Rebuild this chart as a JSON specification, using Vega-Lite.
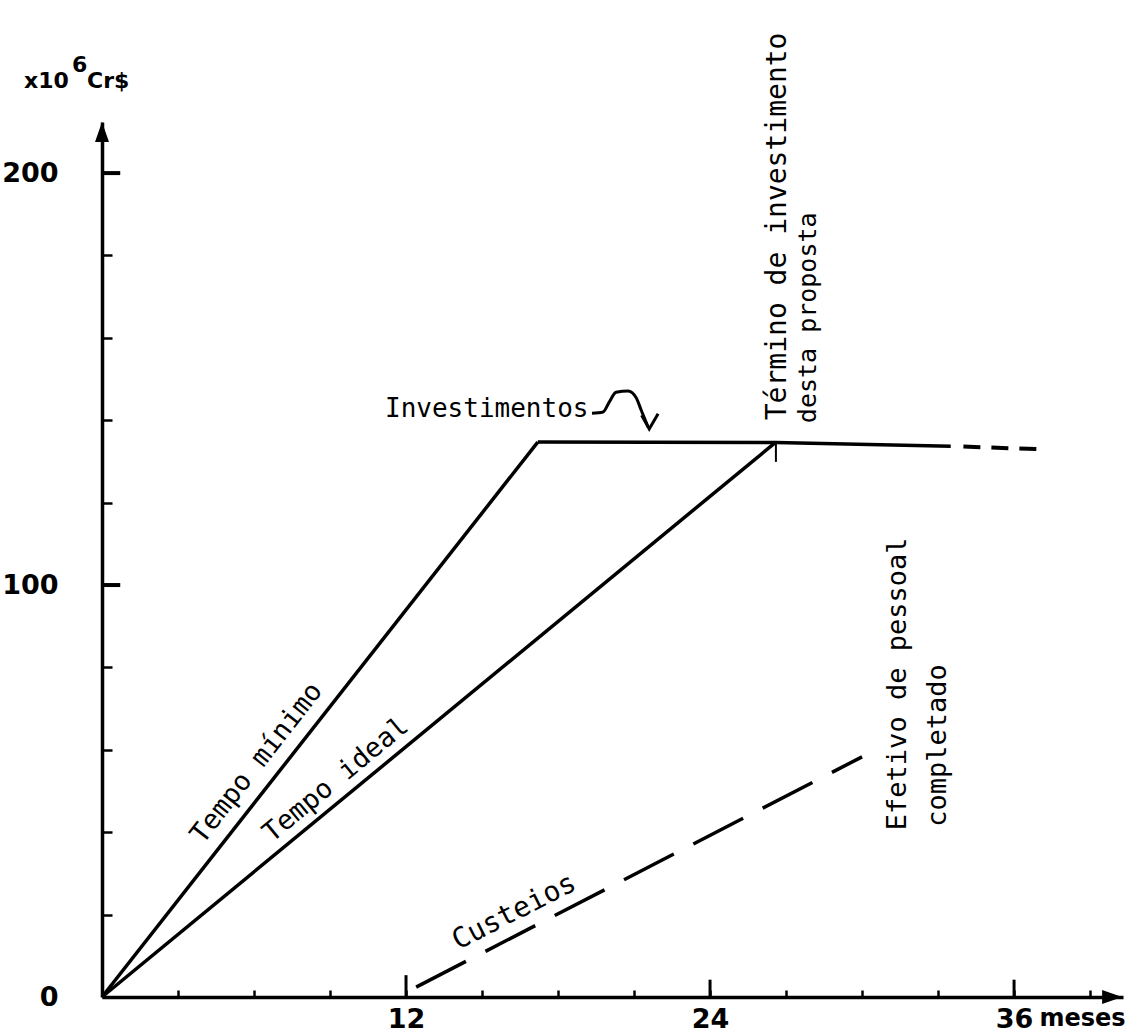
{
  "$schema": "https://vega.github.io/schema/vega-lite/v6.json",
  "width": 1021,
  "height": 875,
  "autosize": {"type": "none"},
  "padding": {"left": 102, "top": 122, "right": 2, "bottom": 39},
  "background": "white",
  "config": {
    "view": {"stroke": null},
    "axis": {
      "grid": false,
      "domainColor": "black",
      "domainWidth": 3.5,
      "tickColor": "black",
      "tickWidth": 2.5,
      "labelColor": "black",
      "labelFont": "DejaVu Sans",
      "labelFontWeight": "bold",
      "labelFontSize": 27
    },
    "text": {"font": "DejaVu Sans Mono", "color": "black"}
  },
  "datasets": {
    "solid": [
      {"series": "Tempo mínimo", "o": 1, "x": 0, "y": 0},
      {"series": "Tempo mínimo", "o": 2, "x": 17.2, "y": 134.7},
      {"series": "Tempo ideal", "o": 1, "x": 0, "y": 0},
      {"series": "Tempo ideal", "o": 2, "x": 26.6, "y": 134.7},
      {"series": "Investimentos", "o": 1, "x": 17.2, "y": 134.7},
      {"series": "Investimentos", "o": 2, "x": 26.6, "y": 134.6},
      {"series": "Investimentos", "o": 3, "x": 33.5, "y": 133.7}
    ],
    "custeios": [
      {"x": 12.4, "y": 2.4},
      {"x": 30.0, "y": 58.3}
    ],
    "invTail": [
      {"x": 34.0, "y": 133.6},
      {"x": 36.9, "y": 133.0}
    ],
    "squiggle": [
      {"o": 1, "x": 19.34, "y": 141.7},
      {"o": 2, "x": 19.78, "y": 142.0},
      {"o": 3, "x": 20.02, "y": 144.4},
      {"o": 4, "x": 20.29, "y": 146.8},
      {"o": 5, "x": 20.77, "y": 147.1},
      {"o": 6, "x": 21.09, "y": 145.4},
      {"o": 7, "x": 21.28, "y": 142.5},
      {"o": 8, "x": 21.56, "y": 138.3}
    ],
    "arrowhead": [
      {"o": 1, "x": 21.3, "y": 141.2},
      {"o": 2, "x": 21.6, "y": 137.9},
      {"o": 3, "x": 21.95, "y": 141.6}
    ],
    "bigTicksX": [
      {"x": 12, "y": 0, "y2": 5.3},
      {"x": 24, "y": 0, "y2": 4.2},
      {"x": 36, "y": 0, "y2": 4.2}
    ],
    "bigTicksY": [
      {"x": 0, "x2": 0.72, "y": 100},
      {"x": 0, "x2": 0.72, "y": 200}
    ],
    "markTick": [
      {"x": 26.6, "y": 129.9, "y2": 134.7}
    ]
  },
  "encoding": {
    "x": {
      "field": "x", "type": "quantitative",
      "scale": {"domain": [0, 40.3], "nice": false, "zero": false},
      "axis": {
        "title": null,
        "values": [3, 6, 9, 12, 15, 18, 21, 24, 27, 30, 33, 36, 39],
        "labelExpr": "datum.value % 12 == 0 ? datum.label : ''",
        "tickSize": -7,
        "labelPadding": 16
      }
    },
    "y": {
      "field": "y", "type": "quantitative",
      "scale": {"domain": [0, 212.4], "nice": false, "zero": false},
      "axis": {
        "title": null,
        "values": [0, 20, 40, 60, 80, 100, 120, 140, 160, 180, 200],
        "labelExpr": "datum.value % 100 == 0 ? datum.label : ''",
        "tickSize": -10,
        "labelPadding": 54
      }
    }
  },
  "layer": [
    {
      "data": {"name": "solid"},
      "mark": {"type": "line", "color": "black", "strokeWidth": 3.5},
      "encoding": {
        "detail": {"field": "series"},
        "order": {"field": "o"}
      }
    },
    {
      "data": {"name": "custeios"},
      "mark": {"type": "line", "color": "black", "strokeWidth": 3.5, "strokeDash": [56, 22]},
      "encoding": {}
    },
    {
      "data": {"name": "invTail"},
      "mark": {"type": "line", "color": "black", "strokeWidth": 4, "strokeDash": [17, 11]},
      "encoding": {}
    },
    {
      "data": {"name": "squiggle"},
      "mark": {"type": "line", "color": "black", "strokeWidth": 3, "interpolate": "monotone"},
      "encoding": {"order": {"field": "o"}}
    },
    {
      "data": {"name": "arrowhead"},
      "mark": {"type": "line", "color": "black", "strokeWidth": 3},
      "encoding": {"order": {"field": "o"}}
    },
    {
      "data": {"name": "bigTicksX"},
      "mark": {"type": "rule", "color": "black", "strokeWidth": 3},
      "encoding": {"y2": {"field": "y2"}}
    },
    {
      "data": {"name": "bigTicksY"},
      "mark": {"type": "rule", "color": "black", "strokeWidth": 4},
      "encoding": {"x2": {"field": "x2"}}
    },
    {
      "data": {"name": "markTick"},
      "mark": {"type": "rule", "color": "black", "strokeWidth": 2},
      "encoding": {"y2": {"field": "y2"}}
    },
    {
      "data": {"values": [{"x": 0, "y": 210}]},
      "mark": {"type": "point", "shape": "M0,-1L0.7,1L-0.7,1Z", "filled": true, "color": "black", "opacity": 1, "size": 400}
    },
    {
      "data": {"values": [{"x": 39.87, "y": 0}]},
      "mark": {"type": "point", "shape": "M1,0L-1,-0.7L-1,0.7Z", "filled": true, "color": "black", "opacity": 1, "size": 400}
    },
    {
      "data": {"values": [{"x": 11.17, "y": 140.8, "label": "Investimentos"}]},
      "mark": {"type": "text", "fontSize": 26, "align": "left", "baseline": "alphabetic"},
      "encoding": {"text": {"field": "label"}}
    },
    {
      "data": {"values": [{"x": 3.99, "y": 36.9, "label": "Tempo mínimo"}]},
      "mark": {"type": "text", "fontSize": 27, "align": "left", "baseline": "alphabetic", "angle": -52},
      "encoding": {"text": {"field": "label"}}
    },
    {
      "data": {"values": [{"x": 6.71, "y": 37.4, "label": "Tempo ideal"}]},
      "mark": {"type": "text", "fontSize": 27, "align": "left", "baseline": "alphabetic", "angle": -39.5},
      "encoding": {"text": {"field": "label"}}
    },
    {
      "data": {"values": [{"x": 14.05, "y": 11.4, "label": "Custeios"}]},
      "mark": {"type": "text", "fontSize": 28, "align": "left", "baseline": "alphabetic", "angle": -27},
      "encoding": {"text": {"field": "label"}}
    },
    {
      "data": {"values": [{"x": 26.69, "y": 140.0, "label": "Término de investimento"}]},
      "mark": {"type": "text", "fontSize": 28, "align": "left", "baseline": "middle", "angle": -90},
      "encoding": {"text": {"field": "label"}}
    },
    {
      "data": {"values": [{"x": 27.87, "y": 139.3, "label": "desta proposta"}]},
      "mark": {"type": "text", "fontSize": 25, "align": "left", "baseline": "middle", "angle": -90},
      "encoding": {"text": {"field": "label"}}
    },
    {
      "data": {"values": [{"x": 31.43, "y": 40.5, "label": "Efetivo de pessoal"}, {"x": 33.0, "y": 41.3, "label": "completado"}]},
      "mark": {"type": "text", "fontSize": 27, "align": "left", "baseline": "middle", "angle": -90},
      "encoding": {"text": {"field": "label"}}
    },
    {
      "data": {"values": [{"x": 37.0, "y": -2.5, "label": "meses"}]},
      "mark": {"type": "text", "font": "DejaVu Sans", "fontWeight": "bold", "fontSize": 24, "align": "left", "baseline": "top"},
      "encoding": {"text": {"field": "label"}}
    },
    {
      "data": {"values": [{"x": -3.08, "y": 220.6, "label": "x10"}, {"x": -0.59, "y": 220.6, "label": "Cr$"}, {"x": -1.18, "y": 224.5, "label": "6"}]},
      "mark": {"type": "text", "font": "DejaVu Sans", "fontWeight": "bold", "fontSize": 22, "align": "left", "baseline": "alphabetic"},
      "encoding": {"text": {"field": "label"}}
    }
  ]
}
